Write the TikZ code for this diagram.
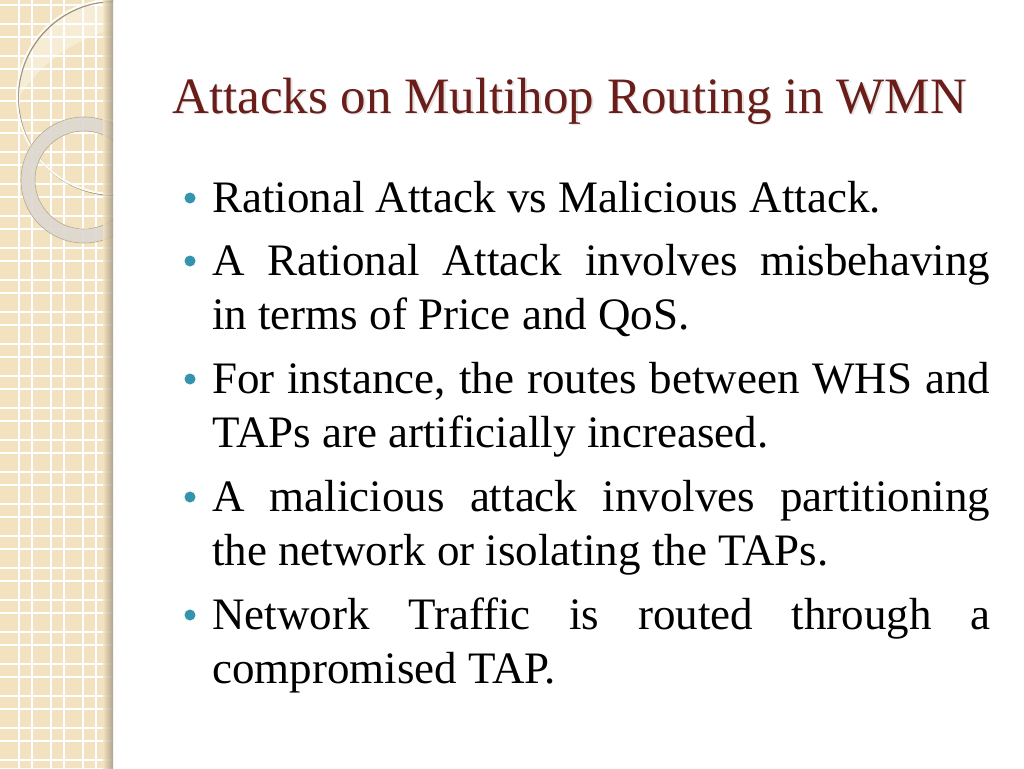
\documentclass[tikz,border=0pt]{standalone}
\usepackage{fontspec}
\setmainfont{Liberation Serif}
\definecolor{stripBeige}{HTML}{F3E2BF}
\definecolor{ringGray}{HTML}{DCD8D0}
\definecolor{titleRed}{HTML}{6A1E1A}
\definecolor{bulletTeal}{HTML}{3494AE}
\def \bulletSize {5.5pt}
\def \bodySpacing {\hyphenpenalty=10000 \exhyphenpenalty=10000 \spaceskip=0.25em plus 1em minus 0em\relax}
\tikzset{
  bodytext/.style={anchor=base west, inner sep=0pt, text width=778pt, align=justify,
    font=\fontsize{45}{54}\selectfont\bodySpacing},
  titletext/.style={anchor=base west, inner sep=0pt, font=\fontsize{51}{60}\selectfont}
}
\begin{document}
\begin{tikzpicture}[x=1pt, y=-1pt]

   \useasboundingbox (0,0) rectangle (1024,768);
   \fill[white] (0,0) rectangle (1024,768);

   % left strip
   \begin{scope}
      \clip (0,0) rectangle (113,768);
      \fill[stripBeige] (0,0) rectangle (113,768);
      \foreach \p in {0,32,...,768} {
         \draw[white, line width=1.6pt] (0,\p+5) -- (113,\p+5);
         \draw[white, line width=1.6pt] (0,\p+24) -- (113,\p+24);
      }
      \foreach \p in {0,32,...,96} {
         \draw[white, line width=1.6pt] (\p+19,0) -- (\p+19,768);
         \draw[white, line width=1.6pt] (\p+32,0) -- (\p+32,768);
      }
      % light area inside the big circle
      \begin{scope}
         \clip (114,97) circle (97);
         \fill[white, opacity=0.35, even odd rule] (0,-20) rectangle (113,200) (150,180) circle (155);
      \end{scope}
      % big circle
      \draw[black!35!stripBeige, line width=2pt] (115,98) circle (97);
      \draw[white!85!stripBeige, line width=2pt] (114,97) circle (97);
      % ring
      \fill[ringGray, opacity=0.9, even odd rule] (84,180) circle (63) (84,180) circle (49);
      \draw[black!25!stripBeige, line width=0.6pt] (84,180) circle (63);
      \draw[black!25!stripBeige, line width=0.6pt] (84,180) circle (49);
      % shadow at the edge
      \shade[left color=stripBeige, right color=black!35!stripBeige, opacity=0.8] (103,0) rectangle (113,768);
   \end{scope}

   % title
   \node[titletext, text=black!30, opacity=0.35] at (173.5,114.5) {Attacks on Multihop Routing in WMN};
   \node[titletext, text=titleRed] (title) at (172,113) {Attacks on Multihop Routing in WMN};

   % bullets
   \node[bodytext] (b1) at (212,212) {Rational Attack vs Malicious Attack.};
   \node[bodytext] (b2) at (212,275) {A Rational Attack involves misbehaving in terms of Price and QoS.};
   \node[bodytext] (b3) at (212,393) {For instance, the routes between WHS and TAPs are artificially increased.};
   \node[bodytext] (b4) at (212,511) {A malicious attack involves partitioning the network or isolating the TAPs.};
   \node[bodytext] (b5) at (212,629) {Network Traffic is routed through a compromised TAP.};

   \foreach \b in {b1,b2,b3,b4,b5} {
      \fill[bulletTeal] (\b.base west) ++(-22,-14) circle (\bulletSize);
   }

\end{tikzpicture}
\end{document}
